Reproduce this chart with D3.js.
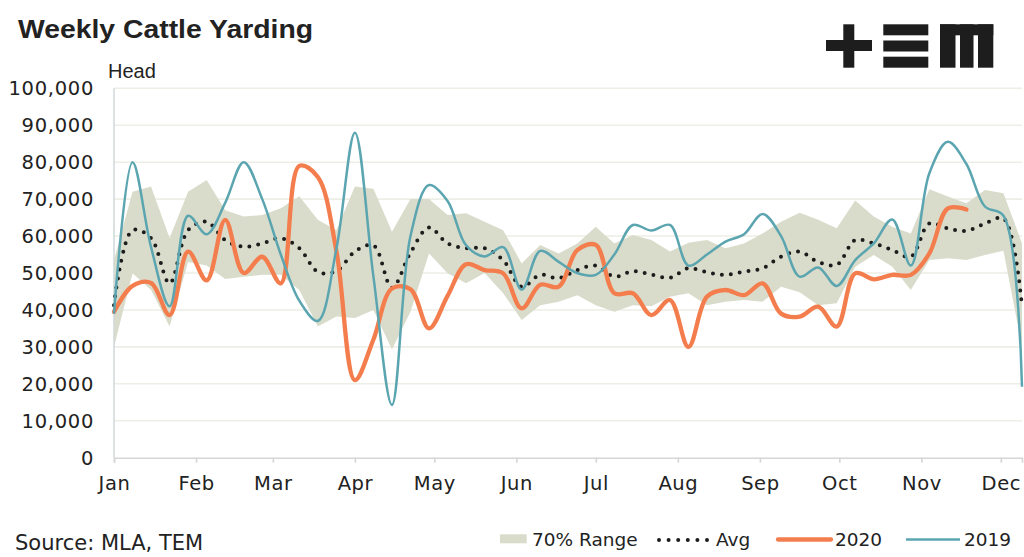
<!DOCTYPE html>
<html>
<head>
<meta charset="utf-8">
<script src="https://cdn.jsdelivr.net/npm/d3@7"></script>
<style>
  body { margin: 0; background: #fff; }
  svg { display: block; }
  text { fill: #222; }
</style>
</head>
<body>
<div id="chart"></div>
<script>
// weekly dates (one point per week)
const weeks = [
  "2020-01-01", "2020-01-08", "2020-01-15", "2020-01-22", "2020-01-29",
  "2020-02-05", "2020-02-12", "2020-02-19", "2020-02-26",
  "2020-03-04", "2020-03-11", "2020-03-18", "2020-03-25",
  "2020-04-01", "2020-04-08", "2020-04-15", "2020-04-22", "2020-04-29",
  "2020-05-06", "2020-05-13", "2020-05-20", "2020-05-27",
  "2020-06-03", "2020-06-10", "2020-06-17", "2020-06-24",
  "2020-07-01", "2020-07-08", "2020-07-15", "2020-07-22", "2020-07-29",
  "2020-08-05", "2020-08-12", "2020-08-19", "2020-08-26",
  "2020-09-02", "2020-09-09", "2020-09-16", "2020-09-23", "2020-09-30",
  "2020-10-07", "2020-10-14", "2020-10-21", "2020-10-28",
  "2020-11-04", "2020-11-11", "2020-11-18", "2020-11-25",
  "2020-12-02", "2020-12-09"
]

const rangeLow = [
  30000, 49900, 45400, 35500, 53000, 52000, 48400, 49000, 49500, 49500,
  45400, 35500, 38200, 37800, 40000, 29300, 39500, 55300, 49900, 47200,
  50000, 44500, 37300, 41300, 42200, 44000, 41300, 39500, 41300, 41000,
  43600, 44500, 41300, 42200, 42700, 42200, 46300, 44800, 41300, 41800,
  51700, 54900, 51700, 45400, 53500, 54000, 53500, 54900, 56000, 30000
]

const rangeHigh = [
  53500, 72000, 73400, 59500, 72000, 75200, 67000, 65300, 65700, 67500,
  70800, 64400, 61600, 73400, 72800, 61200, 70000, 70000, 65700, 66200,
  63900, 61600, 52600, 57600, 55300, 58000, 62500, 58000, 60300, 58900,
  55800, 58200, 58900, 56700, 58000, 60700, 63900, 66300, 64400, 62100,
  69600, 65300, 62500, 60700, 72700, 70700, 68900, 72500, 71600, 58000
]

const avg = [
  41300, 61600, 59400, 47200, 61600, 63900, 58900, 57100, 58000, 59400,
  56700, 50300, 50500, 55800, 57500, 46000, 55500, 62300, 58000, 56700,
  56700, 53500, 46300, 49500, 48600, 50800, 52000, 49000, 50500, 49600,
  48700, 51300, 50200, 49500, 50400, 51300, 54400, 55800, 53000, 52200,
  58900, 58000, 56200, 54400, 63400, 62100, 61400, 63400, 64800, 40900
]

const y2020 = [
  39500, 46500, 47300, 38600, 55800, 48000, 64400, 50000, 54400, 47200,
  79000, 76000, 56000, 21000, 32000, 45800, 45600, 35000, 43800, 52400,
  50800, 49900, 40400, 46800, 46300, 56200, 57600, 44500, 44500, 38600,
  42700, 30000, 43600, 45400, 44000, 47200, 39000, 38200, 40900, 35500,
  49900, 48300, 49500, 49500, 55300, 67500, 67200
]

const y2019 = [
  39000, 80000, 57000, 41000, 65500, 60500, 69000, 80000, 70000, 55000,
  42500, 37000, 56500, 88000, 49000, 14300, 60000, 73800, 69500, 57500,
  54500, 57000, 45500, 56000, 53000, 50000, 49500, 55000, 63000, 61500,
  63000, 52000, 55000, 58500, 60500, 66000, 60000, 49000, 51500, 46500,
  53500, 58000, 64500, 52000, 77000, 85500, 79500, 68000, 65500, 19200
]

const yTicks = [0, 10000, 20000, 30000, 40000, 50000, 60000, 70000, 80000, 90000, 100000]
const legendLabels = ["70% Range", "Avg", "2020", "2019"]

const width = 1024
const height = 557
const marginTop = 88.3
const marginRight = 2
const marginBottom = 99.3
const marginLeft = 114

const BAND = "#dadccb"
const ORANGE = "#f47d4d"
const TEAL = "#5ba5b0"
const DOTS = "#1c1c1c"
const FONT = "'DejaVu Sans', sans-serif"

const parse = d3.timeParse("%Y-%m-%d")
const dates = weeks.map(parse)

const x = d3.scaleTime()
  .domain(d3.extent(dates))
  .range([marginLeft, width - marginRight])

const y = d3.scaleLinear()
  .domain([0, 100000])
  .range([height - marginBottom, marginTop])

const svg = d3.select("#chart")
  .append("svg")
  .attr("width", width)
  .attr("height", height)

// title + units
svg.append("text")
  .attr("x", 18).attr("y", 38)
  .style("font-family", "'Liberation Sans', Arial, sans-serif")
  .style("font-weight", "bold")
  .style("font-size", "25px")
  .attr("textLength", 295)
  .attr("lengthAdjust", "spacingAndGlyphs")
  .text("Weekly Cattle Yarding")

svg.append("text")
  .attr("x", 108).attr("y", 78)
  .style("font-family", "'Liberation Sans', Arial, sans-serif")
  .style("font-size", "20px")
  .text("Head")

// logo (+ E M blocks)
const logo = svg.append("g").attr("fill", "#1d1d1d")
logo.append("rect").attr("x", 826).attr("y", 40).attr("width", 46).attr("height", 11)
logo.append("rect").attr("x", 843.3).attr("y", 24.3).attr("width", 11).attr("height", 43.4)
for (const by of [24.3, 40.5, 56.7])
  logo.append("rect").attr("x", 883.3).attr("y", by).attr("width", 45).attr("height", 11)
logo.append("rect").attr("x", 940).attr("y", 24.3).attr("width", 53.3).attr("height", 11)
for (const [lx, lw] of [[940, 15.5], [960, 13.5], [978, 15.3]])
  logo.append("rect").attr("x", lx).attr("y", 24.3).attr("width", lw).attr("height", 43.4)

// gridlines
svg.append("g")
  .selectAll("line")
  .data(yTicks.slice(1))
  .join("line")
  .attr("x1", marginLeft).attr("x2", width - marginRight)
  .attr("y1", d => y(d)).attr("y2", d => y(d))
  .attr("stroke", "#edeee5")
  .attr("stroke-width", 1.6)

// y axis labels
svg.append("g")
  .selectAll("text")
  .data(yTicks)
  .join("text")
  .attr("x", 94)
  .attr("y", d => y(d))
  .attr("dy", "0.36em")
  .attr("text-anchor", "end")
  .style("font-family", FONT)
  .style("font-size", "19.5px")
  .style("letter-spacing", "0.7px")
  .text(d => d3.format(",")(d))

// 70% range band
const band = d3.area()
  .x((d, i) => x(dates[i]))
  .y0((d, i) => y(rangeLow[i]))
  .y1(d => y(d))

svg.append("path")
  .datum(rangeHigh)
  .attr("fill", BAND)
  .attr("d", band)

// left axis line
svg.append("line")
  .attr("x1", marginLeft).attr("x2", marginLeft)
  .attr("y1", marginTop).attr("y2", y(0))
  .attr("stroke", "#cfd9d9")
  .attr("stroke-width", 1.5)

// bottom axis
const xAxis = svg.append("g")
  .attr("transform", `translate(0,${y(0)})`)
  .call(d3.axisBottom(x)
    .ticks(d3.timeMonth.every(1))
    .tickFormat(d3.timeFormat("%b"))
    .tickSize(5)
    .tickPadding(13))
xAxis.select(".domain").attr("stroke", "#d6d6d6").attr("stroke-width", 1.6)
xAxis.selectAll(".tick line").attr("stroke", "#d6d6d6").attr("stroke-width", 1.6)
xAxis.selectAll(".tick text")
  .attr("fill", "#222")
  .style("font-family", FONT)
  .style("font-size", "19.5px")
  .style("letter-spacing", "0.6px")

// series lines
const line = d3.line()
  .x((d, i) => x(dates[i]))
  .y(d => y(d))
  .curve(d3.curveCatmullRom.alpha(0.5))

svg.append("path")
  .datum(avg)
  .attr("fill", "none")
  .attr("stroke", DOTS)
  .attr("stroke-width", 4)
  .attr("stroke-linecap", "round")
  .attr("stroke-dasharray", "0 9")
  .attr("d", line)

svg.append("path")
  .datum(y2020)
  .attr("fill", "none")
  .attr("stroke", ORANGE)
  .attr("stroke-width", 4.3)
  .attr("stroke-linecap", "round")
  .attr("d", line)

svg.append("path")
  .datum(y2019)
  .attr("fill", "none")
  .attr("stroke", TEAL)
  .attr("stroke-width", 2.5)
  .attr("d", line)

// source
svg.append("text")
  .attr("x", 15).attr("y", 550)
  .style("font-family", FONT)
  .style("font-size", "21px")
  .text("Source: MLA, TEM")

// legend
const legend = svg.append("g").style("font-family", FONT).style("font-size", "18.5px")
legend.append("rect").attr("x", 500).attr("y", 534.3).attr("width", 26.7).attr("height", 9).attr("fill", BAND)
legend.append("text").attr("x", 532).attr("y", 546).text(legendLabels[0])
legend.append("line").attr("x1", 659).attr("x2", 709).attr("y1", 540).attr("y2", 540)
  .attr("stroke", DOTS).attr("stroke-width", 4).attr("stroke-linecap", "round").attr("stroke-dasharray", "0 9.6")
legend.append("text").attr("x", 716).attr("y", 546).text(legendLabels[1])
legend.append("line").attr("x1", 778).attr("x2", 831).attr("y1", 539.5).attr("y2", 539.5)
  .attr("stroke", ORANGE).attr("stroke-width", 4.3).attr("stroke-linecap", "round")
legend.append("text").attr("x", 835).attr("y", 546).text(legendLabels[2])
legend.append("line").attr("x1", 906).attr("x2", 960).attr("y1", 539.5).attr("y2", 539.5)
  .attr("stroke", TEAL).attr("stroke-width", 2.5)
legend.append("text").attr("x", 964).attr("y", 546).text(legendLabels[3])
</script>
</body>
</html>
